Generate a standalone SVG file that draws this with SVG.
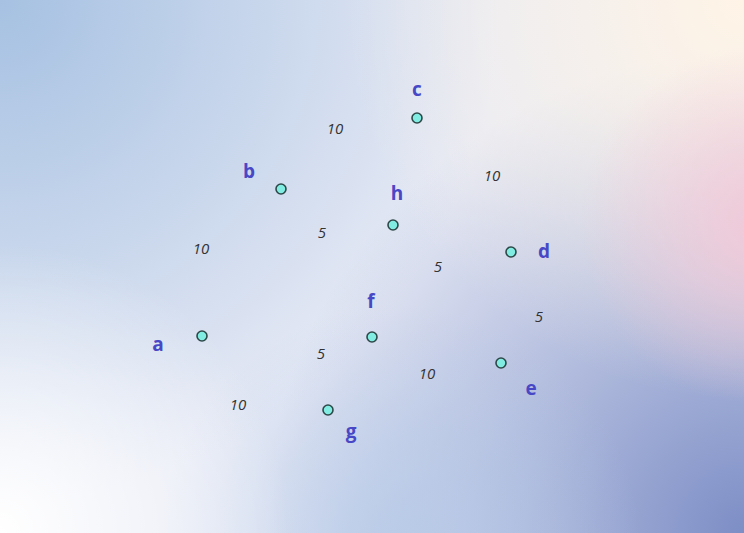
<svg xmlns="http://www.w3.org/2000/svg" width="744" height="533" viewBox="0 0 744 533">
  <defs>
    <radialGradient id="gTL" gradientUnits="userSpaceOnUse" cx="0" cy="0" r="500">
      <stop offset="0" stop-color="#a6c1e2" stop-opacity="1"/>
      <stop offset="1" stop-color="#a6c1e2" stop-opacity="0"/>
    </radialGradient>
    <radialGradient id="gBR" gradientUnits="userSpaceOnUse" cx="744" cy="533" r="480">
      <stop offset="0" stop-color="#7d8ec6" stop-opacity="1"/>
      <stop offset="1" stop-color="#7d8ec6" stop-opacity="0"/>
    </radialGradient>
    <radialGradient id="gBM" gradientUnits="userSpaceOnUse" cx="400" cy="545" r="240">
      <stop offset="0" stop-color="#b5cae8" stop-opacity="0.8"/>
      <stop offset="1" stop-color="#b5cae8" stop-opacity="0"/>
    </radialGradient>
    <radialGradient id="gTR" gradientUnits="userSpaceOnUse" cx="744" cy="0" r="400">
      <stop offset="0" stop-color="#fff4e6" stop-opacity="1"/>
      <stop offset="1" stop-color="#fff4e6" stop-opacity="0"/>
    </radialGradient>
    <radialGradient id="gPK" gradientUnits="userSpaceOnUse" cx="760" cy="225" r="180">
      <stop offset="0" stop-color="#f2c8d8" stop-opacity="0.95"/>
      <stop offset="1" stop-color="#f2c8d8" stop-opacity="0"/>
    </radialGradient>
    <radialGradient id="gBL" gradientUnits="userSpaceOnUse" cx="0" cy="533" r="290">
      <stop offset="0" stop-color="#ffffff" stop-opacity="1"/>
      <stop offset="1" stop-color="#ffffff" stop-opacity="0"/>
    </radialGradient>
    <style>
      .node circle { fill: #80ece2; stroke: #2d4848; stroke-width: 1.6; }
      .lbl { font-family: "Open Sans", "DejaVu Sans", sans-serif; font-weight: bold; font-size: 19px; fill: #4848c6; text-anchor: middle; }
      .w { font-family: "Open Sans", "DejaVu Sans", sans-serif; font-style: italic; font-size: 15px; fill: #333333; text-anchor: middle; }
    </style>
  </defs>

  <g id="background">
    <rect width="744" height="533" fill="#e7eaf5"/>
    <rect width="744" height="533" fill="url(#gTL)"/>
    <rect width="744" height="533" fill="url(#gBR)"/>
    <rect width="744" height="533" fill="url(#gBM)"/>
    <rect width="744" height="533" fill="url(#gTR)"/>
    <rect width="744" height="533" fill="url(#gPK)"/>
    <rect width="744" height="533" fill="url(#gBL)"/>
  </g>

  <g id="connectors">
    <text class="w" x="335" y="134">10</text>
    <text class="w" x="492" y="181">10</text>
    <text class="w" x="201" y="254">10</text>
    <text class="w" x="322" y="238">5</text>
    <text class="w" x="438" y="272">5</text>
    <text class="w" x="539" y="322">5</text>
    <text class="w" x="321" y="359">5</text>
    <text class="w" x="427" y="379">10</text>
    <text class="w" x="238" y="410">10</text>
  </g>

  <g id="node-a" class="node"><circle cx="202" cy="336" r="5"/><text class="lbl" x="158" y="351">a</text></g>
  <g id="node-b" class="node"><circle cx="281" cy="189" r="5"/><text class="lbl" x="249" y="178">b</text></g>
  <g id="node-c" class="node"><circle cx="417" cy="118" r="5"/><text class="lbl" x="417" y="96">c</text></g>
  <g id="node-d" class="node"><circle cx="511" cy="252" r="5"/><text class="lbl" x="544" y="258">d</text></g>
  <g id="node-e" class="node"><circle cx="501" cy="363" r="5"/><text class="lbl" x="531" y="395">e</text></g>
  <g id="node-f" class="node"><circle cx="372" cy="337" r="5"/><text class="lbl" x="371" y="308">f</text></g>
  <g id="node-g" class="node"><circle cx="328" cy="410" r="5"/><text class="lbl" x="351" y="438">g</text></g>
  <g id="node-h" class="node"><circle cx="393" cy="225" r="5"/><text class="lbl" x="397" y="200">h</text></g>
</svg>
